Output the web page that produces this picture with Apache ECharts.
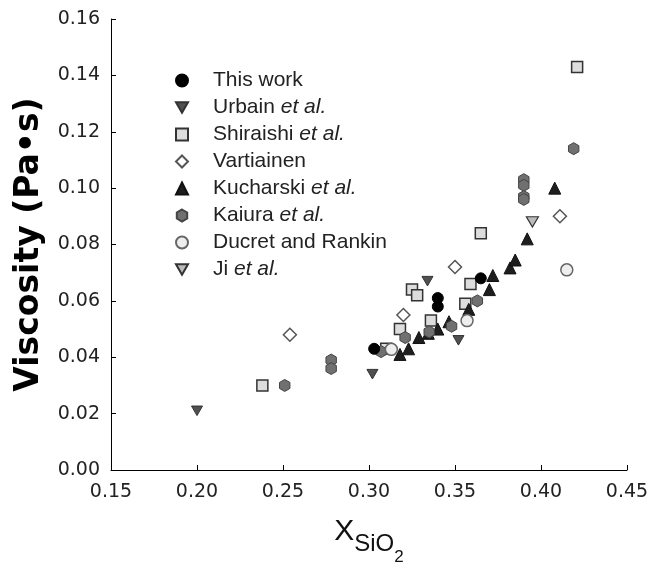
<!DOCTYPE html>
<html>
<head>
<meta charset="utf-8">
<script src="https://cdn.jsdelivr.net/npm/echarts@6/dist/echarts.min.js"></script>
<style>
html,body{margin:0;padding:0;background:#fff;}
#c{width:655px;height:564px;}
</style>
</head>
<body>
<div id="c"></div>
<script>
// Data: [x (mole fraction SiO2), viscosity (Pa·s)]
var thisWork = [[0.303,0.043],[0.340,0.061],[0.340,0.058],[0.365,0.068]];
var urbain = [[0.200,0.021],[0.302,0.034],[0.334,0.067],[0.352,0.046]];
var shiraishi = [[0.238,0.030],[0.310,0.043],[0.318,0.050],[0.325,0.064],[0.328,0.062],[0.336,0.053],[0.356,0.059],[0.359,0.066],[0.365,0.084],[0.421,0.143]];
var vartiainen = [[0.254,0.048],[0.320,0.055],[0.350,0.072],[0.411,0.090]];
var kucharski = [[0.318,0.041],[0.323,0.043],[0.329,0.047],[0.3345,0.0485],[0.340,0.050],[0.3465,0.0526],[0.358,0.057],[0.370,0.064],[0.372,0.069],[0.382,0.0717],[0.385,0.0745],[0.392,0.082],[0.408,0.100]];
var kaiura = [[0.251,0.030],[0.278,0.039],[0.278,0.036],[0.307,0.042],[0.321,0.047],[0.335,0.049],[0.348,0.051],[0.363,0.060],[0.390,0.103],[0.390,0.101],[0.390,0.097],[0.390,0.096],[0.419,0.114]];
var ducret = [[0.313,0.0428],[0.357,0.053],[0.415,0.071]];
var ji = [[0.395,0.088]];

var seriesNames = ['This work','Urbain et al.','Shiraishi et al.','Vartiainen','Kucharski et al.','Kaiura et al.','Ducret and Rankin','Ji et al.'];

var xTicks = {min:0.15, max:0.45, interval:0.05};
var yTicks = {min:0, max:0.16, interval:0.02};

var hexagon = 'path://M0,-1 L0.866,-0.5 L0.866,0.5 L0,1 L-0.866,0.5 L-0.866,-0.5 Z';
var invTriangle = 'path://M0,0 L12,0 L6,10.4 Z';

var chart = echarts.init(document.getElementById('c'), null, {renderer:'canvas'});
var font = 'Liberation Sans, Arial, sans-serif';
var tickFont = 'DejaVu Sans, sans-serif';

function sc(name, data, symbol, size, fill, stroke, bw){
  return {
    name:name, type:'scatter', data:data, symbol:symbol, symbolSize:size,
    symbolKeepAspect:true,
    itemStyle:{color:fill, borderColor:stroke, borderWidth:bw, opacity:1},
    emphasis:{disabled:true}
  };
}

var option = {
  animation:false,
  backgroundColor:'#fff',
  grid:{left:111, right:28, top:19, bottom:94, containLabel:false, outerBoundsMode:'none'},
  legend:{
    orient:'vertical', left:170, top:65,
    itemWidth:12, itemHeight:12, itemGap:6,
    textStyle:{fontFamily:font, fontSize:21, color:'#222', lineHeight:21,
      rich:{
        g:{width:20, fontSize:21, lineHeight:21},
        n:{fontFamily:font, fontSize:21, color:'#222', lineHeight:21},
        i:{fontStyle:'italic', fontFamily:font, fontSize:21, color:'#222', lineHeight:21}
      }},
    formatter:function(n){
      var p = n.split('et al.');
      return '{g| }{n|' + p[0] + '}' + (p.length > 1 ? '{i|et al.}' : '');
    },
    data:seriesNames
  },
  xAxis:{
    type:'value', min:xTicks.min, max:xTicks.max, interval:xTicks.interval,
    name:'{x|X}{s|SiO}{t|2}', nameLocation:'middle', nameGap:43,
    nameTextStyle:{rich:{
      x:{fontFamily:font, fontSize:30, color:'#111', verticalAlign:'bottom', lineHeight:34},
      s:{fontFamily:font, fontSize:24, color:'#111', verticalAlign:'bottom', lineHeight:28, padding:[0,0,-9,0]},
      t:{fontFamily:font, fontSize:17, color:'#111', verticalAlign:'bottom', lineHeight:20, padding:[0,0,-19,0]}
    }},
    axisLine:{show:true, onZero:false, lineStyle:{color:'#000', width:1}},
    axisTick:{show:true, inside:true, length:5, lineStyle:{color:'#000'}},
    axisLabel:{fontFamily:tickFont, fontSize:19, color:'#222', margin:13, formatter:function(v){return v.toFixed(2);}},
    splitLine:{show:false}
  },
  yAxis:{
    type:'value', min:yTicks.min, max:yTicks.max, interval:yTicks.interval,
    name:'Viscosity (Pa\u2022s)', nameLocation:'middle', nameGap:65,
    nameTextStyle:{fontFamily:'DejaVu Sans, sans-serif', fontSize:33, fontWeight:'bold', color:'#000'},
    axisLine:{show:true, onZero:false, lineStyle:{color:'#000', width:1}},
    axisTick:{show:true, inside:true, length:5, lineStyle:{color:'#000'}},
    axisLabel:{fontFamily:tickFont, fontSize:19, color:'#222', margin:11, formatter:function(v){return v.toFixed(2);}},
    splitLine:{show:false}
  },
  series:[
    sc('Urbain et al.', urbain, invTriangle, 11, '#505050', '#333', 1),
    sc('Shiraishi et al.', shiraishi, 'rect', 11, '#ddd', '#333', 1.5),
    sc('Vartiainen', vartiainen, 'diamond', 13, '#fff', '#555', 1.5),
    sc('Kucharski et al.', kucharski, 'triangle', 12, '#1e1e1e', '#111', 1),
    sc('Kaiura et al.', kaiura, hexagon, 12, '#707070', '#444', 1),
    sc('Ducret and Rankin', ducret, 'circle', 12, '#eee', '#666', 1.5),
    sc('Ji et al.', ji, invTriangle, 12, '#bbb', '#333', 1.2),
    sc('This work', thisWork, 'circle', 11, '#000', '#000', 1)
  ]
};
chart.setOption(option);
</script>
</body>
</html>
